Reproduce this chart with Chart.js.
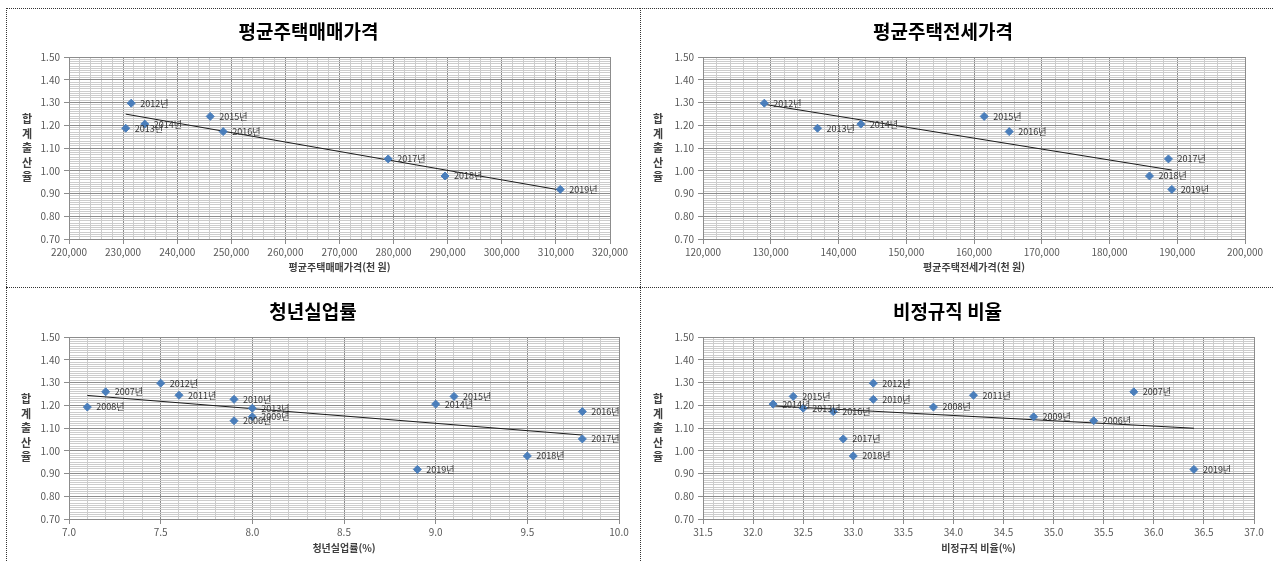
<!DOCTYPE html>
<html lang="ko">
<head>
<meta charset="UTF-8">
<title>합계출산율 산점도</title>
<script src="https://cdn.jsdelivr.net/npm/chart.js"></script>
<style>
  body { margin: 0; background: #fff; width: 1274px; height: 562px; overflow: hidden; position: relative; }
  .panel { position: absolute; border-left: 1px dotted #333; border-top: 1px dotted #333; }
  .panel canvas { display: block; }
  #p1 { left: 6px; top: 8px; width: 633px; height: 278px; }
  #p2 { left: 640px; top: 8px; width: 634px; height: 278px; }
  #p3 { left: 6px; top: 287px; width: 633px; height: 275px; }
  #p4 { left: 640px; top: 287px; width: 634px; height: 275px; }
</style>
</head>
<body>
<div class="panel" id="p1"><canvas id="c1" width="633" height="278"></canvas></div>
<div class="panel" id="p2"><canvas id="c2" width="633" height="278"></canvas></div>
<div class="panel" id="p3"><canvas id="c3" width="633" height="274"></canvas></div>
<div class="panel" id="p4"><canvas id="c4" width="633" height="274"></canvas></div>

<script>
// 2012~2019 (housing price panels)
const years8 = ['2012년', '2013년', '2014년', '2015년', '2016년', '2017년', '2018년', '2019년'];
const tfr8 = [1.297, 1.187, 1.205, 1.239, 1.172, 1.052, 0.977, 0.918];
const salePrice = [231500, 230480, 234000, 246100, 248500, 279000, 289500, 310800];
const jeonsePrice = [129050, 136900, 143300, 161500, 165200, 188700, 185900, 189200];

// 2006~2019 (labour panels)
const years14 = ['2006년', '2007년', '2008년', '2009년', '2010년', '2011년', '2012년',
                 '2013년', '2014년', '2015년', '2016년', '2017년', '2018년', '2019년'];
const tfr14 = [1.132, 1.259, 1.192, 1.149, 1.226, 1.244, 1.297, 1.187, 1.205, 1.239, 1.172, 1.052, 0.977, 0.918];
const youthUnemp = [7.9, 7.2, 7.1, 8.0, 7.9, 7.6, 7.5, 8.0, 9.0, 9.1, 9.8, 9.8, 9.5, 8.9];
const irregularRate = [35.4, 35.8, 33.8, 34.8, 33.2, 34.2, 33.2, 32.5, 32.2, 32.4, 32.8, 32.9, 33.0, 36.4];

// trend line end points
const saleTrendX = [230480, 310800], saleTrendY = [1.249, 0.915];
const jeonseTrendX = [129050, 189200], jeonseTrendY = [1.292, 1.003];
const youthTrendX = [7.1, 9.8], youthTrendY = [1.243, 1.069];
const irregularTrendX = [32.2, 36.4], irregularTrendY = [1.197, 1.099];

const MAJOR = '#8c8c8c';
const MINOR = '#cccccc';
const FONT = "'Noto Sans CJK KR', 'Noto Sans', sans-serif";
Chart.defaults.font.family = FONT;

const isMajor = (v, step) => Math.abs(v / step - Math.round(v / step)) < 1e-6;
const thousands = v => Math.round(v).toLocaleString('en-US');

function scatterChart(id, o) {
    const points = o.xs.map((x, i) => ({ x: x, y: o.ys[i] }));
    const trend = o.trendX.map((x, i) => ({ x: x, y: o.trendY[i] }));

    // point labels ("2012년" ...) to the right of each marker
    const pointLabels = {
        id: 'pointLabels',
        afterDatasetsDraw(chart) {
            const ctx = chart.ctx;
            const meta = chart.getDatasetMeta(0);
            ctx.save();
            ctx.font = '9px ' + FONT;
            ctx.fillStyle = '#333';
            ctx.textAlign = 'left';
            ctx.textBaseline = 'middle';
            meta.data.forEach((el, i) => ctx.fillText(o.labels[i], el.x + 9, el.y));
            ctx.restore();
        }
    };

    // vertical (stacked) y axis title
    const yTitle = {
        id: 'yTitle',
        afterDraw(chart) {
            const ctx = chart.ctx;
            const a = chart.chartArea;
            const chars = '합계출산율'.split('');
            const mid = (a.top + a.bottom) / 2;
            ctx.save();
            ctx.font = 'bold 11px ' + FONT;
            ctx.fillStyle = '#404040';
            ctx.textAlign = 'center';
            ctx.textBaseline = 'middle';
            chars.forEach((c, i) => ctx.fillText(c, o.yTitleX, mid + (i - 2) * 14.5));
            ctx.restore();
        }
    };

    return new Chart(document.getElementById(id), {
        type: 'scatter',
        data: {
            datasets: [
                {
                    data: points,
                    pointStyle: 'rectRot',
                    pointRadius: 4,
                    backgroundColor: '#4a7ebb',
                    borderColor: '#4a7ebb',
                    borderWidth: 1
                },
                {
                    data: trend,
                    showLine: true,
                    pointRadius: 0,
                    borderColor: '#1a1a1a',
                    borderWidth: 1,
                    fill: false
                }
            ]
        },
        options: {
            responsive: false,
            animation: false,
            events: [],
            layout: { padding: { left: 0, right: o.padRight, top: 0, bottom: 0 } },
            plugins: {
                legend: { display: false },
                tooltip: { enabled: false },
                title: {
                    display: true,
                    text: o.title,
                    color: '#000',
                    font: { size: 19, weight: 'bold' },
                    padding: { top: o.titleTop, bottom: o.titleBottom }
                }
            },
            scales: {
                x: {
                    type: 'linear',
                    min: o.xMin,
                    max: o.xMax,
                    afterFit: s => { s.height = o.axisH; },
                    border: { color: MAJOR },
                    grid: {
                        color: c => isMajor(c.tick.value, o.xMajor) ? MAJOR : MINOR,
                        tickColor: c => isMajor(c.tick.value, o.xMajor) ? MAJOR : 'rgba(0,0,0,0)',
                        tickLength: 5
                    },
                    ticks: {
                        stepSize: o.xMinor,
                        autoSkip: false,
                        maxRotation: 0,
                        padding: 2,
                        color: '#595959',
                        font: { size: 10 },
                        callback: v => isMajor(v, o.xMajor) ? o.fmt(v) : ''
                    },
                    title: {
                        display: true,
                        text: o.xTitle,
                        color: '#404040',
                        font: { size: 10, weight: 'bold' },
                        padding: { top: 0, bottom: o.xTitlePad }
                    }
                },
                y: {
                    min: 0.7,
                    max: 1.5,
                    afterFit: s => { s.width = 62; },
                    border: { color: MAJOR },
                    grid: {
                        color: c => isMajor(c.tick.value, 0.1) ? MAJOR : MINOR,
                        tickColor: c => isMajor(c.tick.value, 0.1) ? MAJOR : 'rgba(0,0,0,0)',
                        tickLength: 5
                    },
                    ticks: {
                        stepSize: 0.01,
                        autoSkip: false,
                        padding: 4,
                        color: '#595959',
                        font: { size: 10 },
                        callback: v => isMajor(v, 0.1) ? v.toFixed(2) : ''
                    }
                }
            }
        },
        plugins: [pointLabels, yTitle]
    });
}

scatterChart('c1', {
    title: '평균주택매매가격', xTitle: '평균주택매매가격(천 원)',
    xs: salePrice, ys: tfr8, labels: years8, trendX: saleTrendX, trendY: saleTrendY,
    xMin: 220000, xMax: 320000, xMinor: 2000, xMajor: 10000, fmt: thousands,
    padRight: 30, titleTop: 11.5, titleBottom: 13.7, axisH: 48, xTitlePad: 14, yTitleX: 20
});
scatterChart('c2', {
    title: '평균주택전세가격', xTitle: '평균주택전세가격(천 원)',
    xs: jeonsePrice, ys: tfr8, labels: years8, trendX: jeonseTrendX, trendY: jeonseTrendY,
    xMin: 120000, xMax: 200000, xMinor: 2000, xMajor: 10000, fmt: thousands,
    padRight: 29, titleTop: 11.5, titleBottom: 13.7, axisH: 48, xTitlePad: 14, yTitleX: 17
});
scatterChart('c3', {
    title: '청년실업률', xTitle: '청년실업률(%)',
    xs: youthUnemp, ys: tfr14, labels: years14, trendX: youthTrendX, trendY: youthTrendY,
    xMin: 7, xMax: 10, xMinor: 0.1, xMajor: 0.5, fmt: v => v.toFixed(1),
    padRight: 21, titleTop: 12.7, titleBottom: 13.5, axisH: 43, xTitlePad: 8, yTitleX: 19
});
scatterChart('c4', {
    title: '비정규직 비율', xTitle: '비정규직 비율(%)',
    xs: irregularRate, ys: tfr14, labels: years14, trendX: irregularTrendX, trendY: irregularTrendY,
    xMin: 31.5, xMax: 37, xMinor: 0.1, xMajor: 0.5, fmt: v => v.toFixed(1),
    padRight: 20, titleTop: 12.7, titleBottom: 13.5, axisH: 43, xTitlePad: 8, yTitleX: 17
});
</script>
</body>
</html>
